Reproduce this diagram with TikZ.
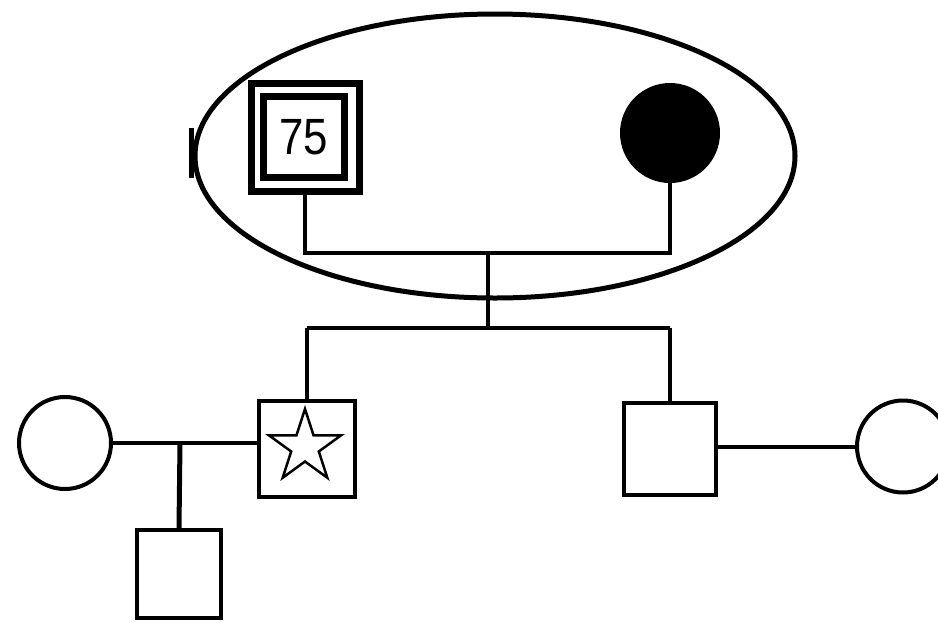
\documentclass[tikz,border=0pt]{standalone}
\usepackage{fontspec}
\setmainfont{Liberation Sans}
\usetikzlibrary{shapes.geometric}
\begin{document}
\begin{tikzpicture}[x=1pt,y=-1pt,
  conn/.style={line width=4pt},
  sq/.style={draw,rectangle,line width=4pt,inner sep=0pt},
  circ/.style={draw,circle,line width=4pt,inner sep=0pt,minimum size=92pt},
  thick7/.style={draw,rectangle,line width=7pt,inner sep=0pt}]
\useasboundingbox (0,0) rectangle (938,622);
\clip (0,0) rectangle (938,622);
% couple ellipse
\node[draw,ellipse,line width=5pt,minimum width=600pt,minimum height=284pt,inner sep=0pt] (grp) at (495,156) {};
\draw[line width=5pt] (191,128) -- (191,178);
% grandparents
\node[thick7,minimum size=108pt] (gfo) at (305,137) {};
\node[thick7,minimum size=81pt] (gf) at (304,137) {};
\node[xscale=0.86] (age) at (304,137) {\fontsize{51}{51}\selectfont 75};
\node[circle,fill=black,minimum size=100pt,inner sep=0pt] (gm) at (670,133) {};
\coordinate (j1) at (488,253);
\coordinate (j2) at (488,328);
\draw[conn] (gfo.south) -- (gfo.south |- j1) -- (gm.south |- j1) -- (gm.south);
\draw[conn] (j1) -- (j2);
% children
\node[sq,minimum size=96pt] (star) at (307,449) {};
\node[star,star points=5,star point ratio=2.618,draw,line width=2.5pt,minimum size=76pt,inner sep=0pt] (st) at (305,447) {};
\node[sq,minimum size=92pt] (rs) at (670,449) {};
\draw[conn] (star.north |- j2) -- (rs.north |- j2);
\draw[conn] (star.north |- j2) -- (star.north);
\draw[conn] (rs.north |- j2) -- (rs.north);
% spouses
\node[circ] (lc) at (65,443) {};
\node[circ] (rc) at (903,446.5) {};
\draw[line width=3.5pt] (lc.east) -- (star.west |- lc.east);
\draw[conn] (rs.east |- rc.west) -- (rc.west);
\coordinate (j3) at (180,443);
\node[sq,minimum width=84pt,minimum height=88pt] (gc) at (179,574) {};
\draw[line width=5pt] (j3) -- (gc.north);
\end{tikzpicture}
\end{document}
